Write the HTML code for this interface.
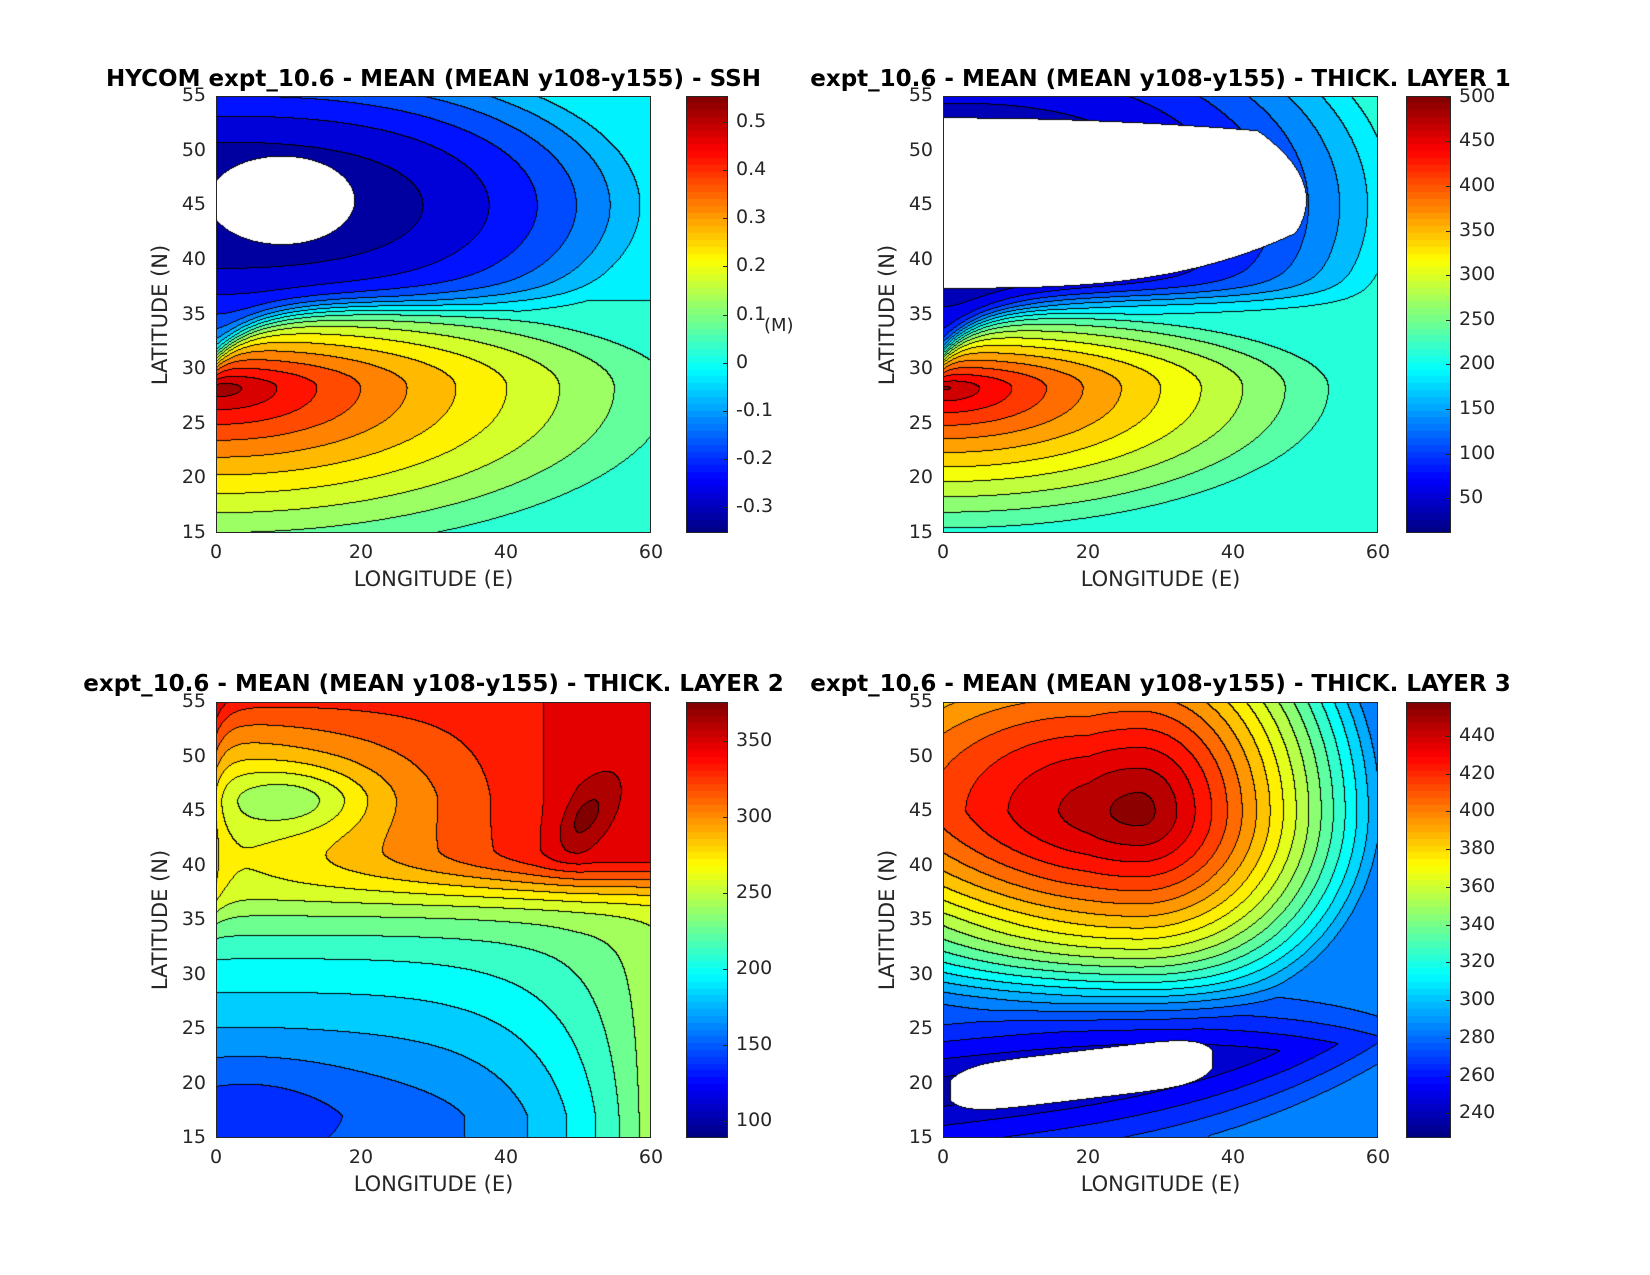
<!DOCTYPE html>
<html><head><meta charset="utf-8"><style>
body{margin:0;background:#fff;width:1650px;height:1275px;position:relative;overflow:hidden;font-family:"DejaVu Sans","Liberation Sans",sans-serif;color:#262626}
.t{position:absolute;font-weight:bold;font-size:23px;color:#000;white-space:nowrap;transform:translateX(-50%)}
.lab{position:absolute;font-size:21px;white-space:nowrap}
canvas{position:absolute}
.ax{position:absolute;border:1px solid #262626;box-sizing:border-box}
.tk{position:absolute;font-size:19px;white-space:nowrap}
</style></head><body>
<div id="root"></div>
<script>
function sq(x){return x*x}
function clamp(x){return x<0?0:x>1?1:x}
function jet(t){return [clamp(1.5-Math.abs(4*t-3)),clamp(1.5-Math.abs(4*t-2)),clamp(1.5-Math.abs(4*t-1))].map(function(v){return Math.round(v*255)})}
function sig(x){return 1/(1+Math.exp(-x))}
function g2(lon,lat,cx,cy,sx,sy){return Math.exp(-(sq((lon-cx)/sx)+sq((lat-cy)/sy)))}
function rs(lon,lat){var c=28.3,s=lat<c?14:8;return Math.sqrt(sq(lon/58)+sq((lat-c)/s));}
function ssh(lon,lat){
 if(sq((lon-9)/10)+sq((lat-45.5)/4)<1)return null;
 var fl=36-5*Math.exp(-lon/6);
 var vs=Math.max(0.03,0.55-0.47*Math.pow(rs(lon,lat),0.8));
 var vn=Math.min(-0.02,-0.35+0.32*Math.pow(lon/60,2.5)+0.15*sq((lat-45)/10));
 var w=sig((lat-fl)/0.7);return vs*(1-w)+vn*w;}
function l1(lon,lat){
 var lb=37.5+5.5*Math.pow(lon/50,3),lt=53-sq(lon/40);
 if(lat>lb&&lat<lt&&lon<50-6*sq((lat-45.5)/6))return null;
 var fl=36.5-5*Math.exp(-lon/6);
 var vs=Math.max(215,485-280*Math.pow(rs(lon,lat),0.85));
 var vn=Math.min(205,15+170*Math.pow(lon/60,2.5)+40*sq((lat-45)/10));
 var w=sig((lat-fl)/0.7);return vs*(1-w)+vn*w;}
function l2(lon,lat){
 var base=150+65*Math.pow(clamp((lat-17)/17),1.2)-15*g2(lon,lat,4,18,14,5);
 var s=base+(245-base)*Math.pow(lon/60,4);
 var gl=lat<41.5?Math.exp(-sq((lat-41.5)/4)):1;
 var n=262+88*Math.pow(clamp(lon/50),1.2)*gl+70*Math.pow(clamp((lat-46)/9),1.5)*(1-clamp(lon/45))
   +25*Math.exp(-(sq(((lon-51)*0.8+(lat-44.5)*0.6)/4.5)+sq((-(lon-51)*0.6+(lat-44.5)*0.8)/2.3)))-35*g2(lon,lat,11,46,10,3)+25*Math.exp(-lon/1.5);
 var w=sig((lat-35.8)/1.2);return s*(1-w)+n*w;}
function l3(lon,lat){
 var yc=19.3+0.08*lon;
 if(lon>1&&lon<37&&sq((lat-yc)/2.2)+Math.pow((lon-19)/18.5,6)<1)return null;
 var low=Math.min(282,232+40*clamp(Math.abs(lat-yc)/7)+35*Math.pow(lon/60,3));
 var sx=lon<27?70:40,sy=lat>45?30:24;
 var r=Math.sqrt(sq((lon-27)/sx)+sq((lat-45)/sy));
 var n=455-210*Math.pow(r,1.3)+20*clamp(1-lon/20)*clamp((lat-35)/10);
 n=Math.max(n,283);
 var w=sig((lat-27.5)/1.5);return low*(1-w)+n*w;}
var P=[
 {x:216,y:96,w:435,h:437,f:ssh,min:-0.355,max:0.555,st:0.05,b:-0.35,cbx:686,cbw:42,ticks:[-0.3,-0.2,-0.1,0,0.1,0.2,0.3,0.4,0.5],title:"HYCOM expt_10.6 - MEAN (MEAN y108-y155) - SSH",ty:66},
 {x:943,y:96,w:435,h:437,f:l1,min:11,max:501,st:25,b:0,cbx:1406,cbw:45,ticks:[50,100,150,200,250,300,350,400,450,500],title:"expt_10.6 - MEAN (MEAN y108-y155) - THICK. LAYER 1",ty:66},
 {x:216,y:702,w:435,h:436,f:l2,min:89,max:376,st:15,b:85,cbx:686,cbw:42,ticks:[100,150,200,250,300,350],title:"expt_10.6 - MEAN (MEAN y108-y155) - THICK. LAYER 2",ty:671},
 {x:943,y:702,w:435,h:436,f:l3,min:227,max:458,st:10,b:220,cbx:1406,cbw:45,ticks:[240,260,280,300,320,340,360,380,400,420,440],title:"expt_10.6 - MEAN (MEAN y108-y155) - THICK. LAYER 3",ty:671}];
var root=document.getElementById('root'),H='';
P.forEach(function(p,i){
 H+='<canvas id="c'+i+'" width="'+p.w+'" height="'+p.h+'" style="left:'+p.x+'px;top:'+p.y+'px"></canvas>';
 H+='<div class="ax" style="left:'+p.x+'px;top:'+p.y+'px;width:'+p.w+'px;height:'+p.h+'px"></div>';
 H+='<canvas id="b'+i+'" width="'+p.cbw+'" height="'+p.h+'" style="left:'+p.cbx+'px;top:'+p.y+'px"></canvas>';
 H+='<div class="ax" style="left:'+p.cbx+'px;top:'+p.y+'px;width:'+p.cbw+'px;height:'+p.h+'px"></div>';
 H+='<div class="t" style="left:'+(p.x+p.w/2)+'px;top:'+p.ty+'px">'+p.title+'</div>';
 for(var la=15;la<=55;la+=5){var yy=p.y+p.h*(55-la)/40;H+='<div class="tk" style="left:'+(p.x-50)+'px;width:40px;text-align:right;top:'+(yy-12)+'px">'+la+'</div>';}
 [0,20,40,60].forEach(function(lo){var xx=p.x+p.w*lo/60;H+='<div class="tk" style="left:'+(xx-20)+'px;width:40px;text-align:center;top:'+(p.y+p.h+8)+'px">'+lo+'</div>';});
 H+='<div class="lab" style="left:'+(p.x+p.w/2)+'px;top:'+(p.y+p.h+34)+'px;transform:translateX(-50%)">LONGITUDE (E)</div>';
 H+='<div class="lab" style="left:'+(p.x-56)+'px;top:'+(p.y+p.h/2)+'px;transform:translate(-50%,-50%) rotate(-90deg)">LATITUDE (N)</div>';
 p.ticks.forEach(function(t){var yy=p.y+p.h*(p.max-t)/(p.max-p.min);H+='<div class="tk" style="left:'+(p.cbx+p.cbw+8)+'px;top:'+(yy-12)+'px">'+t+'</div>';H+='<div style="position:absolute;left:'+(p.cbx+p.cbw-5)+'px;top:'+yy+'px;width:5px;height:1px;background:#262626"></div>';});
});
H+='<div class="tk" style="left:764px;top:315px;font-size:18px">(M)</div>';
root.innerHTML=H;
P.forEach(function(p,i){
 var c=document.getElementById('c'+i).getContext('2d'),im=c.createImageData(p.w,p.h),K=new Int16Array(p.w*p.h);
 for(var y=0;y<p.h;y++)for(var x=0;x<p.w;x++){var v=p.f(x/p.w*60,55-y/p.h*40);K[y*p.w+x]=v===null?-999:Math.floor((v-p.b)/p.st);}
 for(var y=0;y<p.h;y++)for(var x=0;x<p.w;x++){var k=K[y*p.w+x],o=(y*p.w+x)*4,col;
  if(k===-999)col=[255,255,255];else{
   var r=x<p.w-1?K[y*p.w+x+1]:k,dn=y<p.h-1?K[(y+1)*p.w+x]:k,l=x>0?K[y*p.w+x-1]:k,u=y>0?K[(y-1)*p.w+x]:k;
   var edge=(r!==k)||(dn!==k)||l===-999||u===-999;
   if(edge)col=[0,0,0];else{var mid=p.b+(k+0.5)*p.st;col=jet(clamp((mid-p.min)/(p.max-p.min)));}}
  im.data[o]=col[0];im.data[o+1]=col[1];im.data[o+2]=col[2];im.data[o+3]=255;}
 c.putImageData(im,0,0);
 var b=document.getElementById('b'+i).getContext('2d');
 for(var y=0;y<p.h;y++){var t=1-y/p.h;t=(Math.floor(t*64)+0.5)/64;var cc=jet(t);b.fillStyle='rgb('+cc.join(',')+')';b.fillRect(0,y,p.cbw,1);}
});
</script>
</body></html>
